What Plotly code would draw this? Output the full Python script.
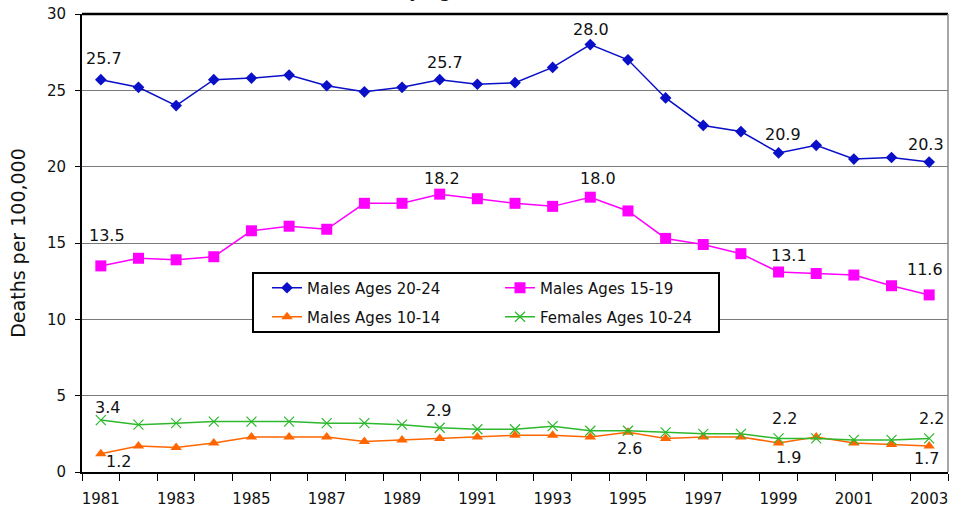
import plotly.graph_objects as go

years = list(range(1981, 2004))

males_20_24 = [25.7, 25.2, 24.0, 25.7, 25.8, 26.0, 25.3, 24.9, 25.2, 25.7, 25.4, 25.5,
               26.5, 28.0, 27.0, 24.5, 22.7, 22.3, 20.9, 21.4, 20.5, 20.6, 20.3]
males_15_19 = [13.5, 14.0, 13.9, 14.1, 15.8, 16.1, 15.9, 17.6, 17.6, 18.2, 17.9, 17.6,
               17.4, 18.0, 17.1, 15.3, 14.9, 14.3, 13.1, 13.0, 12.9, 12.2, 11.6]
males_10_14 = [1.2, 1.7, 1.6, 1.9, 2.3, 2.3, 2.3, 2.0, 2.1, 2.2, 2.3, 2.4,
               2.4, 2.3, 2.6, 2.2, 2.3, 2.3, 1.9, 2.3, 1.9, 1.8, 1.7]
females_10_24 = [3.4, 3.1, 3.2, 3.3, 3.3, 3.3, 3.2, 3.2, 3.1, 2.9, 2.8, 2.8,
                 3.0, 2.7, 2.7, 2.6, 2.5, 2.5, 2.2, 2.2, 2.1, 2.1, 2.2]

series_names = ["Males Ages 20-24", "Males Ages 15-19", "Males Ages 10-14", "Females Ages 10-24"]
y_ticks = [0, 5, 10, 15, 20, 25, 30]
x_tick_labels = [str(y) for y in range(1981, 2004, 2)]
y_title = "Deaths per 100,000"
chart_title = "Suicide Rates by Age and Gender, 1981-2003"

# labelled points: (series index, year, xshift, yshift)
labelled = [
    (0, 1981, 3, 21), (0, 1990, 5, 17), (0, 1994, 1, 15), (0, 1999, 4, 18), (0, 2003, -3, 18),
    (1, 1981, 6, 30), (1, 1990, 2, 16), (1, 1994, 8, 19), (1, 1999, 10, 17), (1, 2003, -4, 25),
    (2, 1981, 18, -8), (2, 1995, 2, -16), (2, 1999, 10, -15), (2, 2003, -3, -12),
    (3, 1981, 7, 13), (3, 1990, -1, 17), (3, 1999, 6, 20), (3, 2003, 2, 20),
]

data = [males_20_24, males_15_19, males_10_14, females_10_24]
colors = ["#0A0FC8", "#FF00FF", "#FF6600", "#2DB82D"]
symbols = ["diamond", "square", "triangle-up", "x-thin"]
msizes = [9, 11, 10, 10]
legend_ids = ["legend", "legend2", "legend3", "legend4"]

FONT = "DejaVu Sans"

fig = go.Figure()
for i in range(4):
    marker = dict(symbol=symbols[i], size=msizes[i], color=colors[i])
    if symbols[i] == "x-thin":
        marker["line"] = dict(color=colors[i], width=1.2)
    fig.add_trace(go.Scatter(
        x=years, y=data[i], name=series_names[i], mode="lines+markers",
        line=dict(color=colors[i], width=1.5), marker=marker,
        legend=legend_ids[i], hoverinfo="skip"))

for (si, yr, xs, ys) in labelled:
    val = data[si][years.index(yr)]
    fig.add_annotation(x=yr, y=val, xref="x", yref="y", text=f"{val:.1f}",
                       showarrow=False, xshift=xs, yshift=ys,
                       font=dict(family=FONT, size=16, color="#111111"))

# chart title (mostly cut off at top of the image, as in the reference)
fig.add_annotation(x=0.455, y=1, xref="paper", yref="paper", yanchor="bottom",
                   yshift=11, text=f"<b>{chart_title}</b>", showarrow=False,
                   font=dict(family=FONT, size=17, color="#111111"))

W, H = 953, 509
ml, mr, mt, mb = 82, 5, 14, 37
pw, ph = W - ml - mr, H - mt - mb

def px_x(p):
    return (p - ml) / pw

def px_y(p):
    return (H - mb - p) / ph

# legend frame
fig.add_shape(type="rect", xref="paper", yref="paper",
              x0=px_x(253), x1=px_x(719), y0=px_y(332), y1=px_y(273),
              fillcolor="white", line=dict(color="black", width=2), layer="above")
# top and right plot border
fig.add_shape(type="line", xref="paper", yref="paper", x0=0, x1=1, y0=1, y1=1,
              line=dict(color="black", width=2.5), layer="above")
fig.add_shape(type="line", xref="paper", yref="paper", x0=1, x1=1, y0=0, y1=1,
              line=dict(color="#888888", width=1.5), layer="above")

leg_common = dict(bgcolor="rgba(0,0,0,0)", borderwidth=0, xanchor="left", yanchor="middle",
                  font=dict(family=FONT, size=15, color="#111111"), itemclick=False)
leg_pos = {"legend": (267, 288), "legend2": (500, 288), "legend3": (267, 317), "legend4": (500, 317)}
layout_leg = {}
for lid, (lx, ly) in leg_pos.items():
    layout_leg[lid] = dict(x=px_x(lx), y=px_y(ly), **leg_common)

fig.update_layout(
    width=W, height=H,
    margin=dict(l=ml, r=mr, t=mt, b=mb, autoexpand=False),
    paper_bgcolor="white", plot_bgcolor="white",
    showlegend=True,
    font=dict(family=FONT, size=15, color="#111111"),
    **layout_leg,
)

fig.update_xaxes(
    range=[1980.5, 2003.5], tickmode="array",
    tickvals=[int(t) for t in x_tick_labels], ticktext=x_tick_labels,
    ticks="", showgrid=False, zeroline=False,
    showline=True, linecolor="black", linewidth=2,
    ticklabelstandoff=12,
    tickfont=dict(family=FONT, size=15, color="#111111"),
    minor=dict(tickmode="linear", tick0=1980.5, dtick=1, ticks="outside",
               ticklen=7, tickcolor="black", tickwidth=1, showgrid=False),
)
fig.update_yaxes(
    range=[0, 30], tickmode="array", tickvals=y_ticks,
    ticks="outside", ticklen=5, tickcolor="black", tickwidth=1,
    showgrid=True, gridcolor="#7a7a7a", gridwidth=1,
    zeroline=False, showline=True, linecolor="black", linewidth=2,
    ticklabelstandoff=6,
    tickfont=dict(family=FONT, size=15, color="#111111"),
    title=dict(text=y_title, font=dict(family=FONT, size=19, color="#111111"), standoff=16),
)

fig.write_html("out.html", config={"displayModeBar": False},
               post_script="document.body.style.margin='0px';document.body.style.padding='0px';")
